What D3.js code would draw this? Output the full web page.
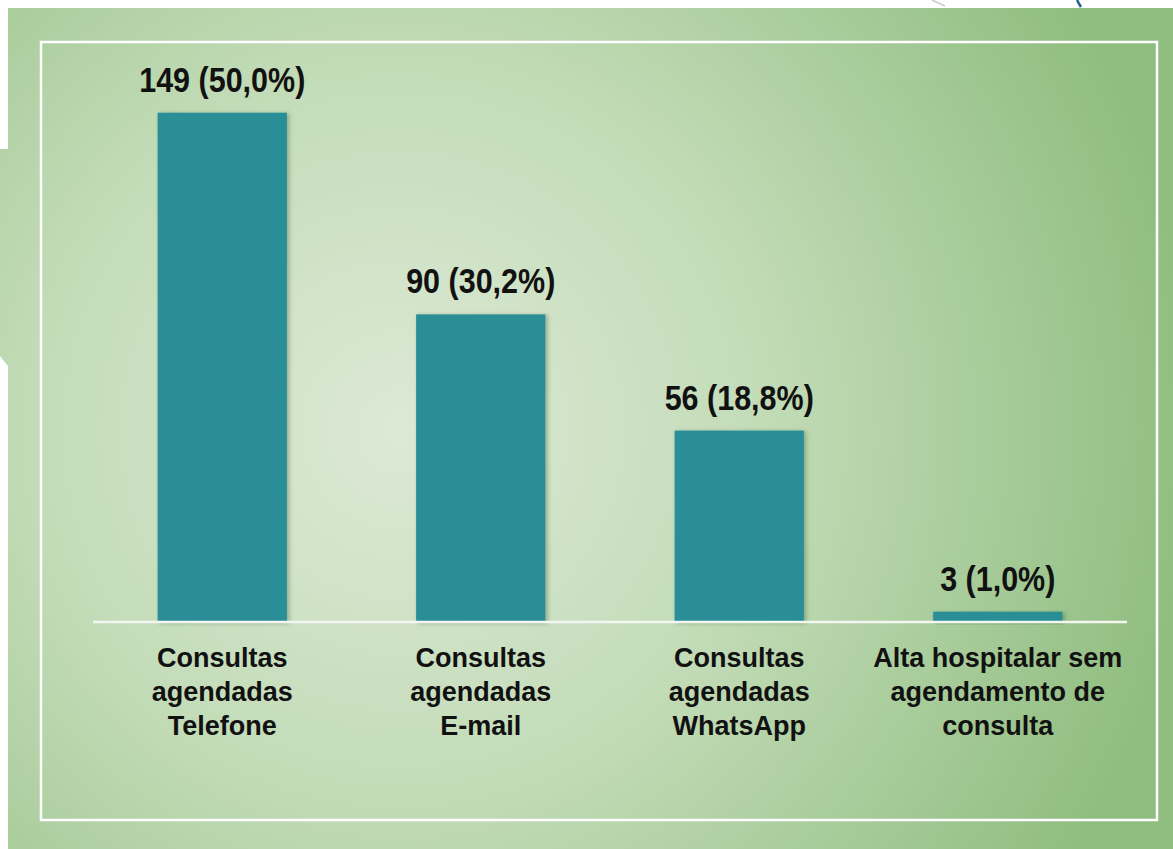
<!DOCTYPE html>
<html>
<head>
<meta charset="utf-8">
<script src="https://cdn.jsdelivr.net/npm/d3@7"></script>
<style>
  html, body { margin: 0; padding: 0; background: #ffffff; }
  svg { display: block; }
</style>
</head>
<body>
<svg id="chart" width="1173" height="849"></svg>
<script>
// Category labels, one array of lines per bar
const categories = [
  ["Consultas", "agendadas", "Telefone"],
  ["Consultas", "agendadas", "E-mail"],
  ["Consultas", "agendadas", "WhatsApp"],
  ["Alta hospitalar sem", "agendamento de", "consulta"]
];
const categoryKeys = ["telefone", "email", "whatsapp", "alta"];
// Number of patients per outcome
const counts = [149, 90, 56, 3];

const W = 1173, H = 849;
const svg = d3.select("#chart");
const defs = svg.append("defs");

// Slide background: soft radial green
const grad = defs.append("radialGradient")
  .attr("id", "bg")
  .attr("gradientUnits", "userSpaceOnUse")
  .attr("cx", 400).attr("cy", 430).attr("r", 800);
grad.append("stop").attr("offset", 0).attr("stop-color", "#dde9d6");
grad.append("stop").attr("offset", 0.45).attr("stop-color", "#c3dcb8");
grad.append("stop").attr("offset", 1).attr("stop-color", "#8fbd7f");

const shadow = defs.append("filter").attr("id", "shadow")
  .attr("x", "-10%").attr("y", "-10%").attr("width", "130%").attr("height", "130%");
shadow.append("feDropShadow")
  .attr("dx", 2).attr("dy", 1).attr("stdDeviation", 2)
  .attr("flood-color", "#1e3a1a").attr("flood-opacity", 0.35);

svg.append("rect").attr("x", 8).attr("y", 8).attr("width", W - 8).attr("height", H - 8)
  .attr("fill", "url(#bg)");
svg.append("polygon").attr("points", "0,149 8,149 8,366 0,356").attr("fill", "url(#bg)");

// Small decorations along the top edge
svg.append("line").attr("x1", 932).attr("y1", 0).attr("x2", 945).attr("y2", 6)
  .attr("stroke", "#c9cdd2").attr("stroke-width", 1.5);
svg.append("path").attr("d", "M1077,0 Q1079,4 1081,7")
  .attr("fill", "none").attr("stroke", "#1f5f8f").attr("stroke-width", 2.5);

// White frame
svg.append("rect").attr("x", 41).attr("y", 42).attr("width", 1116).attr("height", 778)
  .attr("fill", "none").attr("stroke", "#ffffff").attr("stroke-width", 2.5);

// Scales
const x = d3.scaleBand()
  .domain(categoryKeys)
  .range([93, 1127])
  .paddingInner(0.5)
  .paddingOuter(0.25);

const y = d3.scaleLinear()
  .domain([0, 160])
  .range([622, 622 - 160 * 3.418]);

const total = d3.sum(counts);
const pct = d3.format(".1f");
const data = counts.map((v, i) => ({
  key: categoryKeys[i],
  value: v,
  lines: categories[i],
  label: `${v} (${pct(v / total * 100).replace(".", ",")}%)`
}));

// Bars
svg.append("g").selectAll("rect")
  .data(data)
  .join("rect")
  .attr("x", d => x(d.key))
  .attr("y", d => y(d.value))
  .attr("width", x.bandwidth())
  .attr("height", d => y(0) - y(d.value))
  .attr("fill", "#2a8e97")
  .attr("filter", "url(#shadow)");

// Category axis line (no ticks)
const xAxis = svg.append("g")
  .attr("transform", `translate(0,${y(0)})`)
  .call(d3.axisBottom(x).tickSize(0).tickFormat(""));
xAxis.select(".domain")
  .attr("d", "M93,0H1127")
  .attr("stroke", "#f3f6f1").attr("stroke-width", 2.5);

// Category labels
const catLabels = svg.append("g").selectAll("text")
  .data(data)
  .join("text")
  .attr("text-anchor", "middle")
  .attr("font-family", "'Liberation Sans', Arial, sans-serif")
  .attr("font-weight", "bold")
  .attr("font-size", 27)
  .attr("fill", "#111111");
catLabels.selectAll("tspan")
  .data(d => d.lines.map(l => ({ l, cx: x(d.key) + x.bandwidth() / 2 })))
  .join("tspan")
  .attr("x", t => t.cx)
  .attr("y", (t, i) => 667 + i * 34.2)
  .text(t => t.l);

// Value labels above bars
svg.append("g").selectAll("text")
  .data(data)
  .join("text")
  .attr("transform", d => `translate(${x(d.key) + x.bandwidth() / 2},${y(d.value) - 21}) scale(1,1.15)`)
  .attr("text-anchor", "middle")
  .attr("font-family", "'Liberation Sans', Arial, sans-serif")
  .attr("font-weight", "bold")
  .attr("font-size", 30.5)
  .attr("fill", "#111111")
  .text(d => d.label);
</script>
</body>
</html>
